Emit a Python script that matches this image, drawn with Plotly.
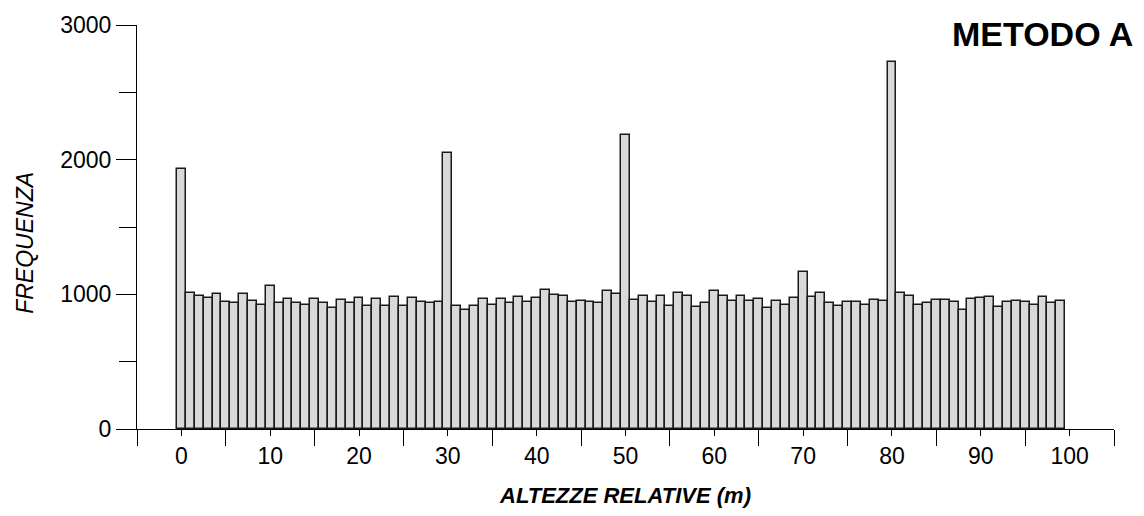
import plotly.graph_objects as go

# Relative heights (m), one class per metre
altezze = list(range(100))

# Frequency of each height class
frequenza = [
    1929, 1009, 985, 973, 1005, 944, 939, 1005, 954, 924,
    1059, 939, 968, 934, 921, 966, 934, 895, 956, 939,
    973, 914, 968, 912, 980, 917, 973, 946, 936, 946,
    2046, 917, 882, 914, 968, 924, 963, 934, 980, 941,
    973, 1034, 997, 988, 946, 954, 941, 936, 1025, 1005,
    2186, 956, 988, 941, 988, 914, 1012, 988, 907, 936,
    1022, 990, 951, 988, 954, 966, 902, 951, 924, 975,
    1167, 983, 1007, 936, 914, 946, 946, 919, 958, 951,
    2728, 1007, 988, 924, 934, 958, 956, 941, 887, 963,
    971, 980, 907, 946, 951, 946, 919, 980, 939, 954,
]

x_tick_vals = [0, 10, 20, 30, 40, 50, 60, 70, 80, 90, 100]
y_tick_vals = [0, 1000, 2000, 3000]

FONT = "Liberation Sans"

fig = go.Figure(
    go.Bar(
        x=altezze,
        y=frequenza,
        width=1,
        marker=dict(color="#d9d9d9", line=dict(color="#1a1a1a", width=1.5)),
    )
)

fig.update_layout(
    width=1144,
    height=516,
    margin=dict(l=137, r=30, t=23, b=85),
    paper_bgcolor="white",
    plot_bgcolor="white",
    bargap=0,
    showlegend=False,
    font=dict(family=FONT, color="black"),
    xaxis=dict(
        range=[-5, 105],
        tickvals=x_tick_vals,
        ticks="outside",
        ticklen=6,
        tickwidth=1,
        tickcolor="black",
        showline=True,
        linecolor="black",
        linewidth=1,
        showgrid=False,
        zeroline=False,
        tickfont=dict(size=23, family=FONT),
        ticklabelstandoff=0,
        minor=dict(tick0=-5, dtick=10, ticks="outside", ticklen=16,
                   tickcolor="black", tickwidth=1, showgrid=False),
        title=dict(
            text="ALTEZZE RELATIVE (m)",
            font=dict(size=22, family=FONT, weight="bold", style="italic"),
            standoff=20,
        ),
    ),
    yaxis=dict(
        range=[0, 3000],
        tickvals=y_tick_vals,
        ticks="outside",
        ticklen=20,
        tickwidth=1,
        tickcolor="black",
        showline=True,
        linecolor="black",
        linewidth=1,
        showgrid=False,
        zeroline=False,
        tickfont=dict(size=23, family=FONT),
        minor=dict(tick0=500, dtick=1000, ticks="outside", ticklen=17,
                   tickcolor="black", tickwidth=1, showgrid=False),
    ),
    annotations=[
        dict(
            text="FREQUENZA",
            xref="paper", yref="paper",
            x=-0.1146, y=0.461,
            xanchor="center", yanchor="middle",
            textangle=-90,
            showarrow=False,
            font=dict(size=23, family=FONT, style="italic", color="black"),
        ),
        dict(
            text="<b>METODO A</b>",
            xref="paper", yref="paper",
            x=1.0215, y=0.978,
            xanchor="right", yanchor="middle",
            showarrow=False,
            font=dict(size=34, family=FONT, color="black"),
        ),
    ],
)

fig.write_html("out.html")
